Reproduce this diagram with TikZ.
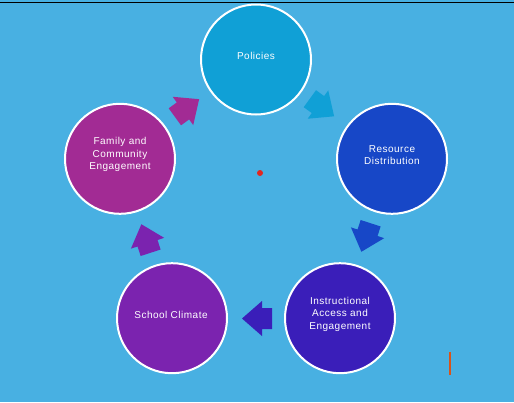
\documentclass[tikz,border=0pt]{standalone}
\usepackage{fontspec}
\setmainfont[LetterSpace=5]{Liberation Sans}
\definecolor{bgblue}{HTML}{48B0E2}
\definecolor{cPol}{HTML}{10A0D6}
\definecolor{cRes}{HTML}{1747C7}
\definecolor{cIns}{HTML}{3A1EB9}
\definecolor{cSch}{HTML}{7B23AF}
\definecolor{cFam}{HTML}{A22B94}
\definecolor{cDot}{HTML}{E3261F}
\definecolor{cMark}{HTML}{D95319}
\newcommand\blockarrow[3]{%
  \fill[#3, shift={#1}, rotate=#2] (-15,-10.5) -- (-5,-10.5) -- (-5,-17.5) -- (15,0) -- (-5,17.5) -- (-5,10.5) -- (-15,10.5) -- cycle;}
\begin{document}
\begin{tikzpicture}[x=1pt,y=-1pt,
  stage/.style={circle, draw=white, line width=2pt, minimum size=110pt, inner sep=0pt},
  txt/.style={text=white, font=\fontsize{10}{12.5}\selectfont, align=center, inner sep=0pt}]
\useasboundingbox (0,0) rectangle (514,402);
\fill[bgblue] (0,0) rectangle (514,402);
\draw[black, line width=1pt] (0,2) -- (514,2);
% stages
\node[stage, fill=cPol] (pol) at (256,59.5) {};
\node[stage, fill=cRes] (res) at (392,158.8) {};
\node[stage, fill=cIns] (ins) at (340,318.2) {};
\node[stage, fill=cSch] (sch) at (172,318.2) {};
\node[stage, fill=cFam] (fam) at (120,158.8) {};
% labels
\node[txt] (polt) at (256,56) {Policies};
\node[txt] (rest) at (392,155) {Resource\\Distribution};
\node[txt] (inst) at (340,314) {Instructional\\Access and\\Engagement};
\node[txt] (scht) at (171,315) {School Climate};
\node[txt] (famt) at (120,154.5) {Family and\\Community\\Engagement};
% arrows
\blockarrow{(322,107.5)}{-36}{cPol}
\blockarrow{(366,237.5)}{-108}{cRes}
\blockarrow{(257,318.5)}{180}{cIns}
\blockarrow{(146,238.5)}{108}{cSch}
\blockarrow{(187,108)}{36}{cFam}
% marks
\fill[cDot] (260,173) circle (3);
\draw[cMark, line width=1.5pt] (450,352) -- (450,375);
\end{tikzpicture}
\end{document}
